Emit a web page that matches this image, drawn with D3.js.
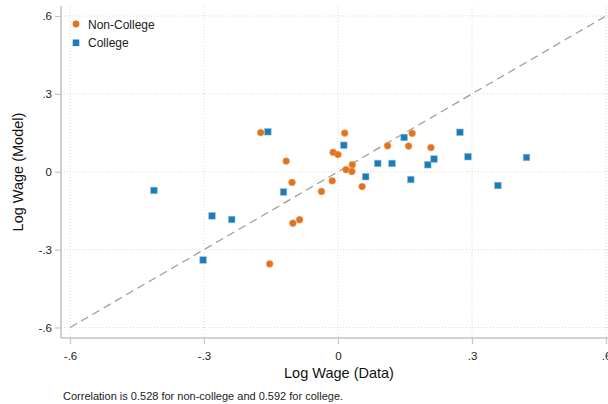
<!DOCTYPE html>
<html><head><meta charset="utf-8">
<script src="https://cdn.jsdelivr.net/npm/d3@7"></script>
<style>body{margin:0;background:#fff;} svg{display:block;font-family:"Liberation Sans",Arial,sans-serif;}</style>
</head><body><svg id="c" width="608" height="404"></svg>
<script>
const nonCollegeX = [-0.173,-0.116,-0.103,-0.101,-0.086,-0.153,-0.037,-0.013,-0.011,0.0,0.015,0.018,0.032,0.031,0.054,0.111,0.158,0.166,0.208];
const nonCollegeY = [0.151,0.041,-0.041,-0.198,-0.185,-0.355,-0.076,-0.035,0.075,0.066,0.149,0.008,0.027,0.001,-0.057,0.100,0.099,0.148,0.093];
const collegeX = [-0.412,-0.282,-0.238,-0.302,-0.157,-0.122,0.013,0.062,0.089,0.121,0.148,0.163,0.201,0.215,0.273,0.291,0.358,0.422];
const collegeY = [-0.072,-0.170,-0.184,-0.340,0.154,-0.078,0.102,-0.019,0.032,0.032,0.132,-0.030,0.027,0.049,0.152,0.058,-0.053,0.055];
const tickVals = [-0.6,-0.3,0,0.3,0.6];
const tickLabels = ["-.6","-.3","0",".3",".6"];
const legendLabels = ["Non-College","College"];
const xTitle = "Log Wage (Data)";
const yTitle = "Log Wage (Model)";
const note = "Correlation is 0.528 for non-college and 0.592 for college.";

const orange = "#e1721e", blue = "#1f7bb6";
const svg = d3.select("#c");
const x = d3.scaleLinear().domain([-0.6,0.6]).range([70,606]);
const y = d3.scaleLinear().domain([-0.6,0.6]).range([327.5,16]);
const axisCol = "#c4c4c4";

// gridlines
const g = svg.append("g");
tickVals.forEach(v=>{
  g.append("line").attr("x1",x(v)).attr("x2",x(v)).attr("y1",6).attr("y2",337)
   .attr("stroke","#d8d8d8").attr("stroke-width",1).attr("stroke-dasharray","1,2");
  g.append("line").attr("y1",y(v)).attr("y2",y(v)).attr("x1",61).attr("x2",608)
   .attr("stroke","#d8d8d8").attr("stroke-width",1).attr("stroke-dasharray","1,2");
});

// axes
const xAxis = d3.axisBottom(x).tickValues(tickVals).tickFormat((d,i)=>tickLabels[i]).tickSize(6).tickSizeOuter(0);
const yAxis = d3.axisLeft(y).tickValues(tickVals).tickFormat((d,i)=>tickLabels[i]).tickSize(6).tickSizeOuter(0);
const gx = svg.append("g").attr("transform","translate(0,338)").call(xAxis);
const gy = svg.append("g").attr("transform","translate(61,0)").call(yAxis);
[gx,gy].forEach(a=>{
  a.select(".domain").remove();
  a.selectAll(".tick line").attr("stroke",axisCol).attr("stroke-width",1.2);
  a.selectAll(".tick text").attr("fill","#222").attr("font-size",11.5).attr("font-family","Liberation Sans, Arial, sans-serif");
});
gx.selectAll(".tick text").attr("dy","1.1em");
svg.append("line").attr("x1",61).attr("x2",608).attr("y1",338).attr("y2",338).attr("stroke",axisCol).attr("stroke-width",1.6);
svg.append("line").attr("x1",61).attr("x2",61).attr("y1",6).attr("y2",338).attr("stroke",axisCol).attr("stroke-width",1.6);

// 45 degree line
svg.append("line").attr("x1",x(-0.6)).attr("y1",y(-0.6)).attr("x2",x(0.6)).attr("y2",y(0.6))
  .attr("stroke","#999").attr("stroke-width",1.2).attr("stroke-dasharray","8,5");

// points
svg.append("g").selectAll("circle").data(d3.range(nonCollegeX.length)).join("circle")
  .attr("cx",i=>x(nonCollegeX[i])).attr("cy",i=>y(nonCollegeY[i])).attr("r",3.4)
  .attr("fill",orange).attr("stroke","#f0a060").attr("stroke-width",0.6);
svg.append("g").selectAll("rect").data(d3.range(collegeX.length)).join("rect")
  .attr("x",i=>x(collegeX[i])-3.3).attr("y",i=>y(collegeY[i])-3.3).attr("width",6.6).attr("height",6.6)
  .attr("fill",blue).attr("stroke","#8cc0e0").attr("stroke-width",0.6);

// legend
svg.append("circle").attr("cx",76).attr("cy",24).attr("r",3.4).attr("fill",orange);
svg.append("rect").attr("x",72.7).attr("y",39.5).attr("width",6.6).attr("height",6.6).attr("fill",blue);
svg.append("text").attr("x",88).attr("y",28.5).attr("font-size",12).attr("fill","#222").text(legendLabels[0]);
svg.append("text").attr("x",88).attr("y",47).attr("font-size",12).attr("fill","#222").text(legendLabels[1]);

// titles
svg.append("text").attr("x",339).attr("y",378).attr("text-anchor","middle").attr("font-size",14.5).attr("fill","#111").text(xTitle);
svg.append("text").attr("transform","translate(23,172) rotate(-90)").attr("text-anchor","middle").attr("font-size",14.5).attr("fill","#111").text(yTitle);
svg.append("text").attr("x",63).attr("y",400).attr("font-size",11).attr("fill","#222").text(note);
</script></body></html>
